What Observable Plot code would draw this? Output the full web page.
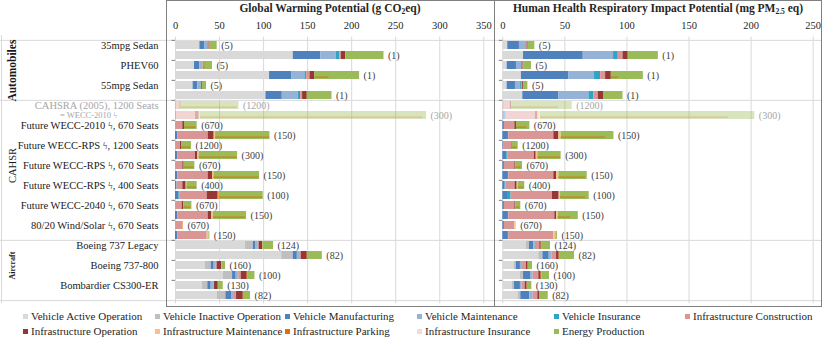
<!DOCTYPE html>
<html><head><meta charset="utf-8">
<script src="https://cdn.jsdelivr.net/npm/d3@7"></script>
<script src="https://cdn.jsdelivr.net/npm/@observablehq/plot@0.6"></script>
<style>
body{margin:0;background:#fff;}
#chart{position:relative;width:825px;height:338px;overflow:hidden;font-family:"Liberation Serif","DejaVu Serif",serif;color:#262626;}
.abs{position:absolute;}
.title{position:absolute;top:2px;text-align:center;font-weight:bold;font-size:11.5px;white-space:nowrap;}
.title sub{font-size:7.5px;vertical-align:-2px;line-height:0;}
#legend{position:absolute;left:23px;top:309px;display:grid;grid-template-columns:132px 130px 132px 137px 131px 130px;row-gap:1px;font-size:11px;color:#262626;}
.item{display:flex;align-items:center;white-space:nowrap;height:14px;}
.sw{width:5px;height:5px;margin-right:3px;flex:none;}
</style></head>
<body>
<div id="chart">
  <div id="plotA" class="abs" style="left:0;top:0"></div>
  <div id="plotB" class="abs" style="left:494px;top:0"></div>
  <div class="abs" style="left:166px;top:0;width:656px;height:307px;border:1px solid #808080;box-sizing:border-box"></div>
  <div class="abs" style="left:494px;top:0;width:0;height:307px;border-left:1px solid #808080"></div>
  <div class="abs" style="left:1px;top:35px;width:0;height:268px;border-left:1px solid #d9d9d9"></div>
  <div class="title" style="left:166px;width:328px">Global Warming Potential (g CO<sub>2</sub>eq)</div>
  <div class="title" style="left:494px;width:328px">Human Health Respiratory Impact Potential (mg PM<sub>2.5</sub> eq)</div>
  <div id="legend"></div>
</div>
<script>
// ---- categories / components ----
const components = ["Vehicle Active Operation","Vehicle Inactive Operation","Vehicle Manufacturing","Vehicle Maintenance","Vehicle Insurance","Infrastructure Construction","Infrastructure Operation","Infrastructure Maintenance","Infrastructure Parking","Infrastructure Insurance","Energy Production"];
const componentColors = ["#d9d9d9","#bfbfbf","#4f81bd","#95b3d7","#31a3c4","#da9694","#953735","#fabf8f","#e46c0a","#f2dcdb","#9bbb59"];
const categories = ["35mpg Sedan","PHEV60","55mpg Sedan","CAHSRA (2005), 1200 Seats","Future WECC-2010 \u03DF, 670 Seats","Future WECC-RPS \u03DF, 1200 Seats","Future WECC-RPS \u03DF, 670 Seats","Future WECC-RPS \u03DF, 400 Seats","Future WECC-2040 \u03DF, 670 Seats","80/20 Wind/Solar \u03DF, 670 Seats","Boeing 737 Legacy","Boeing 737-800","Bombardier CS300-ER"];
const fadedNote = "= WECC-2010 \u03DF";
const groups = ["Automobiles","CAHSR","Aircraft"];
const groupCategoryCounts = [3, 7, 3];
const occupancy = ["(5)","(1)","(5)","(1)","(5)","(1)","(1200)","(300)","(670)","(150)","(1200)","(300)","(670)","(150)","(400)","(100)","(670)","(150)","(670)","(150)","(124)","(82)","(160)","(100)","(130)","(82)"];
const fadedCategories = [3];
const ticksGWP = [0,50,100,150,200,250,300,350];
const ticksHH = [0,50,100,150,200,250];

// ---- values (columns in components order) ----
const gwp = [
  [27.7,0,5.3,3.7,0.8,0.7,1.0,0,0,0,8.1],
  [133.7,0,31.1,17.8,3.8,1.9,4.9,0,0,0,43.5],
  [21.6,0,6.1,2.6,0.7,0.8,0.7,0,0,0,9.5],
  [106.8,0,25,15.2,1.9,3.8,5.3,0,0,0,51],
  [20,0,5.4,3,0.7,0.7,0.9,0,0,0,4.5],
  [102.7,0,18.5,18.2,2.6,2.3,5.3,0,0,0,28.1],
  [0,0,0,0,0,5.0,1.0,0,0,0,66],
  [0,0,0.8,0,0,21.9,4.2,1.5,0,0,256.6],
  [0,0,0.4,0,0,7.9,1.9,0,0,0,14.4],
  [0,0,2.7,0,0,34.4,6.8,1.6,0,0,61.7],
  [0,0,0.3,0,0,5.4,1.1,0,0,0,11.4],
  [0,0,2.7,0,0,20,2.7,1.5,0,0,43.6],
  [0,0,0.4,0,0,7.9,1.5,0,0,0,12.2],
  [0,0,2.7,0,0,34.4,4.9,1.6,0,0,51.9],
  [0,0,1.5,0,0.4,6.4,3.8,0.8,0,0,11.7],
  [0,0,4.0,0,0.9,31.1,12.5,0.8,0.7,0,49.6],
  [0,0,0.4,0,0,7.2,1.9,0,0,0,9.1],
  [0,0,2.7,0,0,34.4,4.2,1.5,0,0,37.9],
  [0,0,0.4,0,0,7.9,0,0.4,0.4,0,0],
  [0,0,2.7,0,0,33.3,0,1.9,0,0,1.1],
  [79.5,8.8,2.6,1.9,0.7,1.5,3.9,0,0.3,0,12.1],
  [120.5,13.2,4.6,2.6,0.6,1.3,6.8,0,0.3,0,16.8],
  [34.1,6.4,3.4,1.6,0.4,1.4,5.0,0,0.2,0,4.3],
  [54.2,10.6,4.1,2.3,0.6,2.8,6.8,0,0.4,0,8.4],
  [30.7,6.0,3.8,2.3,0.5,1.0,4.2,0,0.2,0,5.5],
  [47.3,9.9,6.4,2.7,0.6,2.4,7.6,0,0.3,0,8.0]
];
const hh = [
  [4,0,9.4,5.1,0.5,0.6,0.8,0,0,0,5.4],
  [16.7,0,48.1,24.4,3.8,3.8,4.2,0,0,0,24.3],
  [3.5,0,7.5,4,0.8,0.6,0.6,0,0,0,6.1],
  [15,0,38,20.9,4.9,4,4.6,0,0,0,25.8],
  [3.5,0,6.7,4,0.8,1,0.7,0,0,0,3.5],
  [16.1,0,29.1,24.2,4,3.5,4.6,0,0,0,15.3],
  [0,0,0,0,0,6,1,0,0,0,48.9],
  [0,0,2.7,0,0,23.6,1.9,2.2,0,0,172.6],
  [0,0,1.3,0,0,8.4,1.3,0,0,0,10.8],
  [0,0,3.8,0,1.0,36.3,4.1,1.8,0,0,42.5],
  [0,0,0.5,0,0,6.5,0.5,0,0,0,4.9],
  [0,0,3.2,0,0.8,21.5,1.4,1.3,0,0,18.8],
  [0,0,1.3,0,0,8.4,0.8,0,0,0,5.4],
  [0,0,3.8,0,1.0,36.3,2.2,1.9,0,0,22.8],
  [0,0,1.8,0,0.6,7.5,1.7,0.8,0,0,5.3],
  [0,0,4.5,0,2.2,33.3,5.4,1.1,0,0,23.1],
  [0,0,1.3,0,0,8.4,0.8,0,0,0,4.0],
  [0,0,3.8,0,1.0,37.1,1.4,1.3,0,0,16.2],
  [0,0,1.3,0,0,8.4,0,1.1,0,0,0],
  [0,0,3.8,0,1.0,36.3,0,1.6,0,0,1.3],
  [18.8,2.7,3.5,1.3,0,3.5,1.1,0,0.3,0,7.2],
  [29,3.3,5.1,2.1,0,3.8,2.1,0,0.3,0,12.1],
  [9.4,1.6,3.2,1.7,0,3.2,1.3,0,0.2,0,3.3],
  [14.2,2.5,5.6,2.2,0,4.5,1.9,0,0.5,0,6.2],
  [7.8,1.6,4.8,1.1,0,2.7,1.6,0,0.2,0,3.6],
  [12.4,2.1,7.3,2.7,0,3.7,1.6,0,0.4,0,6.4]
];
// thin orange line drawn inside the energy-production segment (end value)
const gwpLineEnd = [null,null,34,174.2,null,null,70,281,23.9,107,17,70,20.8,94.7,23.9,99.2,17.8,79.5,null,null,null,null,null,null,null,null];
const hhLineEnd  = [null,null,null,93.5,null,null,45,182,19.6,82.8,11.6,46.5,14.8,66.7,17,66.7,13.7,54.6,null,null,null,null,null,null,null,null];

// ---- helpers ----
const nRows = occupancy.length;
const rows = d3.range(nRows);
const H = 307, MT = 36.6, MB = 3.7;
const step = (H - MT - MB) / nRows;
const fadedRows = rows.filter(r => fadedCategories.includes(Math.floor(r / 2)));
const catRows = categories.map((name, i) => ({row: i * 2, name, faded: fadedCategories.includes(i)}));
let acc = 0;
const groupRows = groups.map((name, i) => { const start = acc * 2; acc += groupCategoryCounts[i]; return {name, start, end: acc * 2, mid: (start + acc * 2) / 2 - 1}; });
const sepRows = [0, ...groupRows.slice(1).map(g => g.start)];
const pairRows = rows.filter(r => r % 2 === 0);
const FONT = "'Liberation Serif','DejaVu Serif',serif";

function tidy(values) {
  const out = [];
  values.forEach((vals, r) => vals.forEach((v, c) => { if (v > 0) out.push({row: r, comp: components[c], value: v}); }));
  return out;
}

function panel({values, lineEnds, ticks, width, marginLeft, marginRight, labels}) {
  const max = ticks[ticks.length - 1];
  const k = (width - marginLeft - marginRight) / max;
  const data = tidy(values);
  const totals = values.map((v, r) => ({row: r, total: d3.sum(v), label: occupancy[r]}));
  const lines = [];
  lineEnds.forEach((e, r) => { if (e != null) lines.push({row: r, x1: d3.sum(values[r].slice(0, 10)), x2: e}); });
  const isF = d => fadedRows.includes(d.row);
  const leftEdge = -marginLeft / k, rightEdge = (width - marginLeft - (labels ? 0 : 3)) / k;
  const marks = [
    Plot.gridX(ticks, {stroke: "#d9d9d9", strokeOpacity: 1}),
    Plot.ruleY(sepRows, {y: d => d, dy: -step / 2, x1: leftEdge, x2: rightEdge, stroke: "#d9d9d9"}),
    Plot.ruleY([nRows - 1], {y: d => d, dy: step / 2, x1: leftEdge, x2: rightEdge, stroke: "#d9d9d9"}),
    Plot.ruleY(pairRows, {y: d => d, dy: -step / 2, x1: -3.5 / k, x2: 0, stroke: "#808080"}),
    Plot.barX(data.filter(d => !isF(d)), {x: "value", y: "row", fill: "comp"}),
    Plot.barX(data.filter(isF), {x: "value", y: "row", fill: "comp", fillOpacity: 0.4}),
    Plot.barX(lines.filter(d => !isF(d)), {x1: "x1", x2: "x2", y: "row", fill: "#e46c0a", insetTop: 5.6, insetBottom: 1.4}),
    Plot.barX(lines.filter(isF), {x1: "x1", x2: "x2", y: "row", fill: "#e46c0a", fillOpacity: 0.35, insetTop: 5.6, insetBottom: 1.4}),
    Plot.text(totals.filter(d => !isF(d)), {x: "total", y: "row", text: "label", dx: 4, textAnchor: "start", fill: "#404040", fontSize: 10}),
    Plot.text(totals.filter(isF), {x: "total", y: "row", text: "label", dx: 4, textAnchor: "start", fill: "#a6a6a6", fontSize: 10}),
    Plot.axisX(ticks, {anchor: "top", tickSize: 0, tickPadding: 8, label: null, fontSize: 10.5, fill: "#262626"})
  ];
  if (labels) {
    marks.push(
      Plot.text(catRows.filter(d => !d.faded), {y: "row", text: "name", frameAnchor: "left", dx: -17, textAnchor: "end", fill: "#1a1a1a", fontSize: 10.5}),
      Plot.text(catRows.filter(d => d.faded), {y: "row", text: "name", frameAnchor: "left", dx: -17, textAnchor: "end", fill: "#a6a6a6", fontSize: 10.5}),
      Plot.text(catRows.filter(d => d.faded), {y: d => d.row + 1, text: () => fadedNote, frameAnchor: "left", dx: -87, textAnchor: "middle", fill: "#a6a6a6", fontSize: 8.5}),
      Plot.text(groupRows.slice(0, 1), {y: "mid", text: "name", frameAnchor: "left", textAnchor: "middle", dx: -163, dy: step / 2, rotate: -90, fontWeight: "bold", fontSize: 11.5, fill: "#1a1a1a"}),
      Plot.text(groupRows.slice(1, 2), {y: "mid", text: "name", frameAnchor: "left", textAnchor: "middle", dx: -163, dy: 0, rotate: -90, fontSize: 10.5, fill: "#1a1a1a"}),
      Plot.text(groupRows.slice(2), {y: "mid", text: "name", frameAnchor: "left", textAnchor: "middle", dx: -163, dy: 0, rotate: -90, fontWeight: "bold", fontSize: 8, fill: "#1a1a1a"})
    );
  }
  return Plot.plot({
    width, height: H, marginTop: MT, marginBottom: MB, marginLeft, marginRight,
    style: `font-family: ${FONT}; background: transparent; overflow: visible;`,
    x: {domain: [0, max], axis: null},
    y: {type: "band", domain: rows, paddingInner: 0.2, paddingOuter: 0.1, axis: null},
    color: {domain: components, range: componentColors},
    marks
  });
}

document.getElementById("plotA").append(panel({values: gwp, lineEnds: gwpLineEnd, ticks: ticksGWP, width: 495, marginLeft: 175, marginRight: 11.7, labels: true}));
document.getElementById("plotB").append(panel({values: hh, lineEnds: hhLineEnd, ticks: ticksHH, width: 331, marginLeft: 8.3, marginRight: 12.3, labels: false}));

// legend
const legend = document.getElementById("legend");
components.forEach((c, i) => {
  const item = document.createElement("div");
  item.className = "item";
  item.innerHTML = `<span class="sw" style="background:${componentColors[i]}"></span><span>${c}</span>`;
  legend.append(item);
});
</script>
</body></html>
